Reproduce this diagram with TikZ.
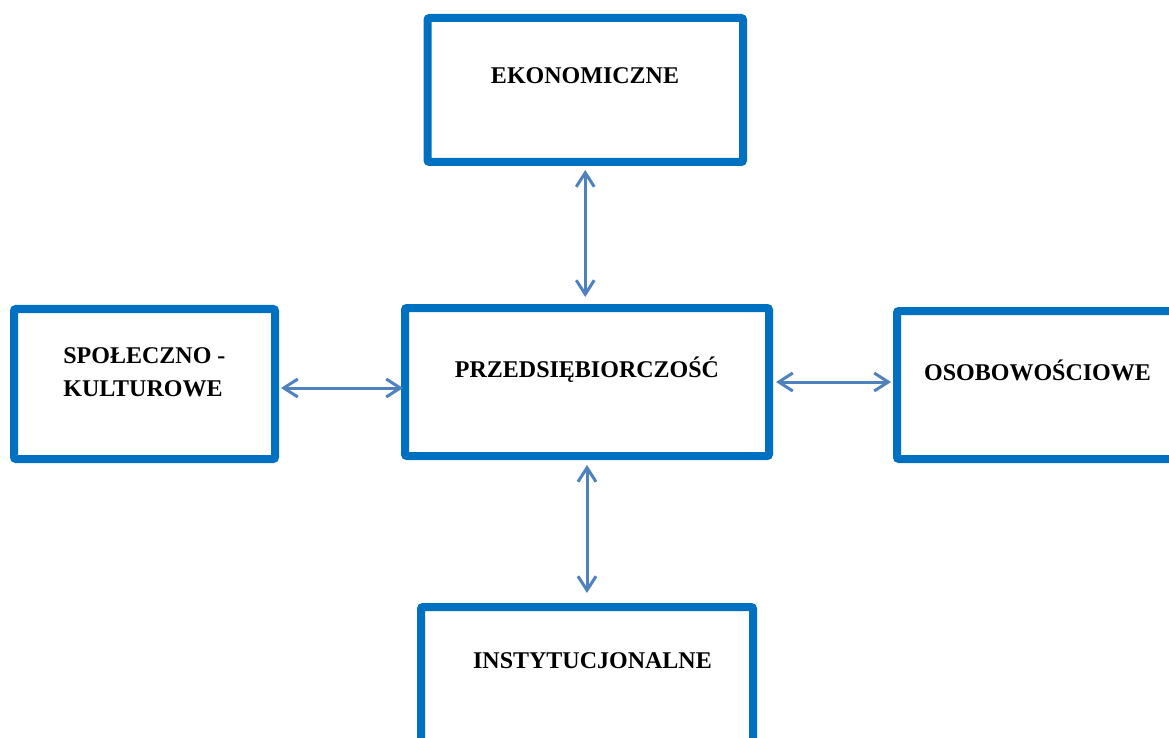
\documentclass[tikz,border=0pt]{standalone}
\usepackage{fontspec}
\setmainfont{Liberation Serif}
\usetikzlibrary{arrows.meta}
\definecolor{boxblue}{RGB}{0,112,192}
\definecolor{linkblue}{RGB}{79,129,189}
\begin{document}
\begin{tikzpicture}[x=0.5pt,y=-0.5pt,
    box/.style={draw=boxblue, line width=4pt, rounded corners=1pt, inner sep=0pt},
    link/.style={draw=linkblue, line width=1.5pt, <->, >={Straight Barb[length=7pt,width=9pt]}},
    lbl/.style={font=\fontsize{12}{16.5}\selectfont\bfseries, inner sep=0pt, anchor=base}]
  \useasboundingbox (0,0) rectangle (1169,738);
  % frames
  \node[box, minimum width=157.75pt, minimum height=72pt] (ekon) at (585.25,90) {};
  \node[box, minimum width=130.5pt, minimum height=75pt] (spol) at (144.5,384) {};
  \node[box, minimum width=182pt, minimum height=74pt] (przed) at (587,382) {};
  \node[box, minimum width=143pt, minimum height=74pt] (osob) at (1040,385) {};
  \node[box, minimum width=166pt, minimum height=72pt] (inst) at (587,679) {};
  % texts
  \node[lbl] (tekon) at (585,84) {EKONOMICZNE};
  \node[lbl, align=left, anchor=base west] (tspol) at (63,396) {SPOŁECZNO -\\KULTUROWE};
  \node[lbl] (tprzed) at (587,378) {PRZEDSIĘBIORCZOŚĆ};
  \node[lbl] (tosob) at (1037.5,380) {OSOBOWOŚCIOWE};
  \node[lbl] (tinst) at (592.5,668) {INSTYTUCJONALNE};
  % links
  \draw[link, shorten <=2pt, shorten >=3.5pt] (ekon.south) -- (ekon.south |- przed.north);
  \draw[link, shorten <=1pt, shorten >=-1pt] ([yshift=-2pt]spol.east) -- ([yshift=-2pt]spol.east -| przed.west);
  \draw[link, shorten <=1.5pt, shorten >=1pt] (przed.east) -- (przed.east -| osob.west);
  \draw[link, shorten <=2.5pt, shorten >=5pt] (przed.south) -- (przed.south |- inst.north);
\end{tikzpicture}
\end{document}
